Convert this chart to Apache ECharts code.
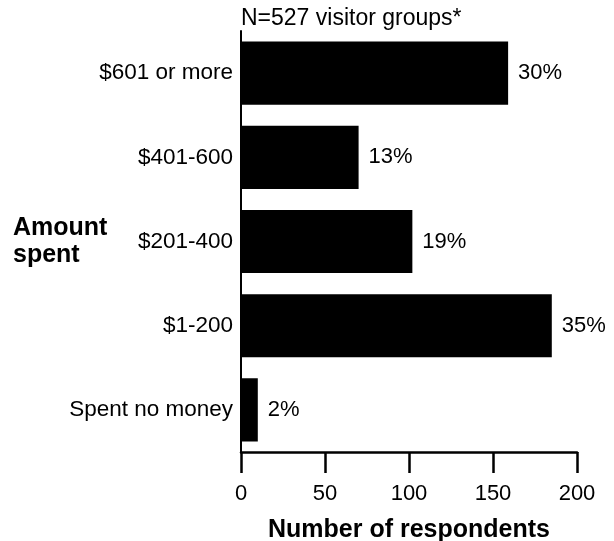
<!DOCTYPE html>
<html>
<head>
<meta charset="utf-8">
<title>Amount spent</title>
<script src="https://cdn.jsdelivr.net/npm/echarts@6/dist/echarts.min.js"></script>
<style>
    html, body { margin: 0; padding: 0; background: #fff; }
    #main { width: 614px; height: 541px; }
</style>
</head>
<body>
<div id="main"></div>
<script>
// data
let categories = ['$601 or more', '$401-600', '$201-400', '$1-200', 'Spent no money'];
let respondents = [159, 70, 102, 185, 10];
let pctLabels = ['30%', '13%', '19%', '35%', '2%'];
let xTicks = [0, 50, 100, 150, 200];

let font = 'Liberation Sans, Arial, sans-serif';

let myChart = echarts.init(document.getElementById('main'));
let option = {
    backgroundColor: '#fff',
    animation: false,
    title: {
        text: 'N=527 visitor groups*',
        left: 241,
        top: 7,
        padding: 0,
        textStyle: {
            color: '#000',
            fontFamily: font,
            fontSize: 23,
            fontWeight: 'normal'
        }
    },
    grid: {
        left: 241,
        right: 37,
        top: 31,
        bottom: 89,
        containLabel: false,
        outerBoundsMode: 'none'
    },
    xAxis: {
        type: 'value',
        min: xTicks[0],
        max: xTicks[xTicks.length - 1],
        interval: 50,
        name: 'Number of respondents',
        nameLocation: 'middle',
        nameGap: 66,
        nameMoveOverlap: false,
        nameTextStyle: {
            color: '#000',
            fontFamily: font,
            fontSize: 25,
            fontWeight: 'bold'
        },
        axisLine: {
            show: true,
            lineStyle: { color: '#000', width: 2.5 }
        },
        axisTick: {
            show: true,
            length: 21,
            lineStyle: { color: '#000', width: 2.5 }
        },
        axisLabel: {
            color: '#000',
            fontFamily: font,
            fontSize: 22,
            margin: 31
        },
        splitLine: { show: false }
    },
    yAxis: {
        type: 'category',
        inverse: true,
        data: categories,
        name: 'Amount\nspent',
        nameLocation: 'middle',
        nameRotate: 0,
        nameGap: 228,
        nameMoveOverlap: false,
        nameTextStyle: {
            color: '#000',
            fontFamily: font,
            fontSize: 25,
            fontWeight: 'bold',
            align: 'left',
            verticalAlign: 'middle',
            lineHeight: 27,
            padding: [8, 0, 0, 0]
        },
        axisLine: {
            show: true,
            lineStyle: { color: '#000', width: 2 }
        },
        axisTick: { show: false },
        axisLabel: {
            color: '#000',
            fontFamily: font,
            fontSize: 22.5,
            margin: 8
        },
        splitLine: { show: false }
    },
    series: [{
        type: 'bar',
        data: respondents,
        barCategoryGap: '25%',
        itemStyle: { color: '#000' },
        label: {
            show: true,
            position: 'right',
            distance: 10,
            color: '#000',
            fontFamily: font,
            fontSize: 22,
            formatter: function(p) {
                return pctLabels[p.dataIndex];
            }
        }
    }]
};
myChart.setOption(option);
</script>
</body>
</html>
